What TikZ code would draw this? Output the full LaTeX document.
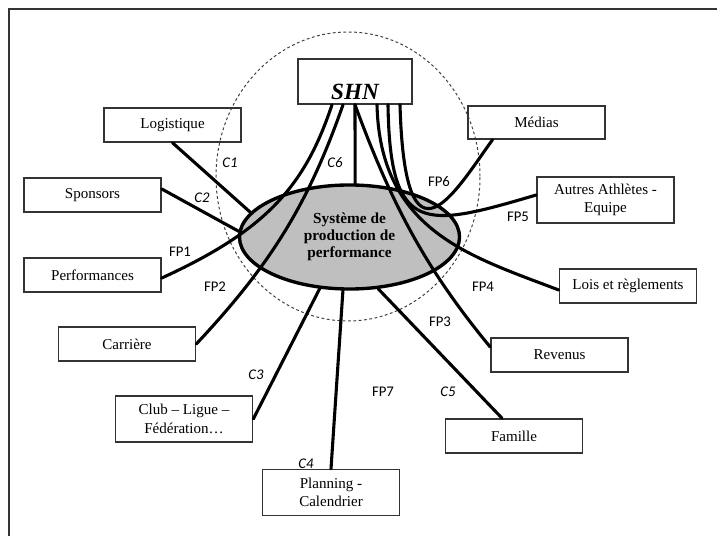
\documentclass[tikz,border=0pt]{standalone}
\usepackage{fontspec}
\setmainfont{Liberation Serif}
\newfontfamily\lblfont{Carlito}
\usetikzlibrary{calc, shapes.geometric}

\begin{document}
\begin{tikzpicture}[
    x=0.025cm, y=0.025cm,
    box/.style={draw=black!80, line width=1.1pt, align=center, inner sep=1pt,
      minimum width=3.425cm, minimum height=0.85cm,
      font=\fontsize{10.7}{13}\selectfont},
    tall/.style={minimum height=1.15cm},
    link/.style={line width=2.2pt, line cap=round},
    flux/.style={font=\lblfont\fontsize{10.5}{12}\selectfont, inner sep=0pt},
    crit/.style={font=\lblfont\itshape\fontsize{10.5}{12}\selectfont, inner sep=0pt}
  ]
  \useasboundingbox (0,0) rectangle (717,-536);
  \draw[black!80, line width=0.8pt] (717,-9) -- (9,-9) -- (9,-536);
  \draw[black!75, line width=0.7pt, dash pattern=on 2pt off 1.8pt]
    (348,-176.5) ellipse [x radius=132, y radius=144.5];

  \node[ellipse, draw, line width=2.4pt, fill=black!25, minimum width=5.5cm,
    minimum height=2.6cm, inner sep=0pt, align=center,
    font=\bfseries\fontsize{10.9}{12.2}\selectfont] (sys) at (349.5,-237)
    {Système de\\production de\\performance};
  \node[box, minimum width=2.85cm, inner sep=0pt, text height=28.8pt,
    text depth=3.2pt, font=\bfseries\itshape\fontsize{16.5}{18}\selectfont]
    (shn) at (355,-81.5) {SHN};

  \node[box] (logi) at (172.5,-125) {Logistique};
  \node[box] (spon) at (92.5,-195) {Sponsors};
  \node[box] (perf) at (92.5,-275) {Performances};
  \node[box] (carr) at (127,-344) {Carrière};
  \node[box, tall] (club) at (184,-419) {Club – Ligue –\\Fédération…};
  \node[box, tall] (plan) at (331,-492.5) {Planning -\\Calendrier};
  \node[box] (fami) at (514,-436) {Famille};
  \node[box] (reve) at (559.5,-355) {Revenus};
  \node[box] (lois) at (628,-286) {Lois et règlements};
  \node[box, tall] (autr) at (605.5,-200) {Autres Athlètes -\\Equipe};
  \node[box, minimum height=0.825cm] (medi) at (536.5,-122.5) {Médias};

  \draw[link] (logi.south) -- (sys.166);
  \draw[link] ($(spon.east)+(0,6)$) -- (sys.177);
  \draw[link] ($(shn.south)+(-23,0)$) .. controls +(-27,-81) and +(105,48) .. ($(perf.east)+(0,-3)$);
  \draw[link] ($(shn.south)+(-12,0)$) .. controls +(-35,-100) and +(74,79) .. (carr.east);
  \draw[link] (shn.south) -- (sys.84);
  \draw[link] (shn.south) .. controls +(35,-95) and +(-67,81) .. ($(reve.west)+(0,8)$);
  \draw[link] ($(shn.south)+(22,0)$) .. controls +(3,-126) and +(-89,34) .. ($(lois.west)+(0,-4)$);
  \draw[link] ($(shn.south)+(33,0)$) .. controls +(2,-131) and +(-112,-33) .. ($(autr.west)+(0,5)$);
  \draw[link] ($(shn.south)+(45,0)$) .. controls +(5,-176) and +(-37,-51) .. ($(medi.south)+(-44,0)$);
  \draw[link] (club.east) -- (sys.240);
  \draw[link] (plan.north) -- (sys.263);
  \draw[link] (sys.299) -- ($(fami.north)+(-12,0)$);

  \node[crit] (c1) at (230,-163) {C1};
  \node[crit] (c2) at (202,-198) {C2};
  \node[crit] (c3) at (256,-375) {C3};
  \node[crit] (c4) at (306,-464) {C4};
  \node[crit] (c5) at (448,-392) {C5};
  \node[crit] (c6) at (335,-163) {C6};
  \node[flux] (fp1) at (180,-252) {FP1};
  \node[flux] (fp2) at (215,-287) {FP2};
  \node[flux] (fp3) at (440,-322) {FP3};
  \node[flux] (fp4) at (483,-287) {FP4};
  \node[flux] (fp5) at (518,-217) {FP5};
  \node[flux] (fp6) at (439,-182) {FP6};
  \node[flux] (fp7) at (383,-392) {FP7};
\end{tikzpicture}
\end{document}
